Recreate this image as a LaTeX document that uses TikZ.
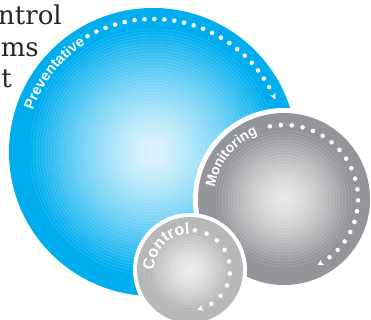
\documentclass[tikz,border=0pt]{standalone}
\usepackage{fontspec}
\newfontfamily\bodyfont{DejaVu Serif}
\newfontfamily\ringfont{Liberation Sans}
\usetikzlibrary{decorations.text}
\definecolor{prevblue}{HTML}{00AEEF}
\definecolor{prevlight}{HTML}{DDF4FD}
\definecolor{mongray}{HTML}{939598}
\definecolor{monlight}{HTML}{E9E9EA}
\definecolor{ctrlgray}{HTML}{B7B8BA}
\definecolor{ctrllight}{HTML}{EDEDEE}

\begin{document}
\begin{tikzpicture}[x=1pt, y=1pt,
  para/.style={font=\bodyfont\fontsize{26}{30}\selectfont, text=black!85, inner sep=0pt, anchor=base east},
  ringtext/.style 2 args={decorate, decoration={text along path, text align=left, text={|\ringfont\bfseries\fontsize{#1}{#1}\selectfont\color{white}|#2}}},
  dot/.style={fill=white},
  tipmark/.style={fill=white},
  halo/.style={fill=white},
  groove/.style={white, opacity=.3, line width=.25pt}
]
\useasboundingbox (0,0) rectangle (371,320);
\clip (0,0) rectangle (371,320);

% text behind the discs
\node[para] (l1) at (62,295) {ntrol};
\node[para] (l2) at (39,263) {ams};
\node[para] (l3) at (12,232) {t};

% Preventative
\coordinate (prev) at (153,168);
\fill[prevblue] (prev) circle (144);
\foreach \r in {123,120,...,3} {
  \pgfmathsetmacro\p{100*(\r/123)^1.4}
  \fill[prevblue!\p!prevlight] (prev) circle (\r);
  \draw[groove] (prev) circle (\r);
}
\path[shift={(prev)}, ringtext={14.5}{Preventative}] (161:127) arc[start angle=161, end angle=100, radius=127];
\foreach \a in {119.5,115.2,...,29} \fill[dot, shift={(prev)}] (\a:133) circle (2.3);
\fill[tipmark, shift={(prev)}, rotate=25] (133,-4) -- (130,2) -- (133,0.5) -- (136,2) -- cycle;

% Monitoring
\coordinate (mon) at (284,121);
\fill[halo] (mon) circle (91);
\fill[mongray] (mon) circle (86);
\foreach \r in {68,65,...,2} {
  \pgfmathsetmacro\p{100*(\r/68)^1.4}
  \fill[mongray!\p!monlight] (mon) circle (\r);
  \draw[groove] (mon) circle (\r);
}
\path[shift={(mon)}, ringtext={14}{Monitoring}] (171:70) arc[start angle=171, end angle=80, radius=70];
\foreach \a in {101,92.5,...,-52} \fill[dot, shift={(mon)}] (\a:74) circle (2.3);
\fill[tipmark, shift={(mon)}, rotate=-60] (74,-4) -- (71,2) -- (74,0.5) -- (77,2) -- cycle;

% Control
\coordinate (ctrl) at (190,50);
\fill[halo] (ctrl) circle (57);
\fill[ctrlgray] (ctrl) circle (53);
\foreach \r in {41,38,...,2} {
  \pgfmathsetmacro\p{100*(\r/41)^1.4}
  \fill[ctrlgray!\p!ctrllight] (ctrl) circle (\r);
  \draw[groove] (ctrl) circle (\r);
}
\path[shift={(ctrl)}, ringtext={16}{Control}] (181:36) arc[start angle=181, end angle=60, radius=36];
\foreach \a in {83,65.4,...,-59} \fill[dot, shift={(ctrl)}] (\a:40) circle (2.3);
\fill[tipmark, shift={(ctrl)}, rotate=-74] (40,-4) -- (37,2) -- (40,0.5) -- (43,2) -- cycle;
\end{tikzpicture}
\end{document}
